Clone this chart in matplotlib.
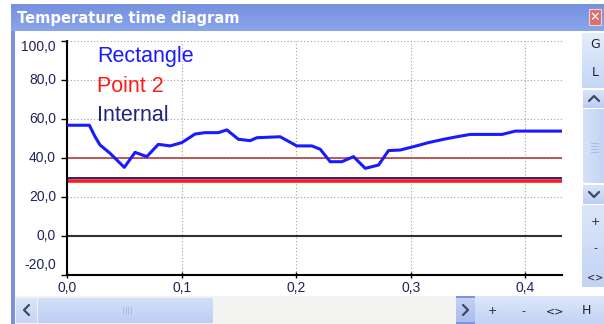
import numpy as np
import matplotlib.pyplot as plt
from matplotlib.patches import Rectangle

# Temperature curve of the "Rectangle" sensor (time, temperature)
time_s = [0.0, 0.0195, 0.0245, 0.0288, 0.0376, 0.05, 0.0594, 0.0696, 0.0797, 0.09,
          0.1002, 0.1118, 0.1205, 0.1321, 0.1395, 0.1496, 0.1598, 0.1657, 0.186,
          0.2006, 0.2137, 0.221, 0.2297, 0.2399, 0.25, 0.2603, 0.2719, 0.2806,
          0.2908, 0.3024, 0.3155, 0.3287, 0.3403, 0.352, 0.3797, 0.3913, 0.432]
temp_rect = [56.8, 56.8, 50.9, 46.7, 42.4, 35.2, 42.9, 40.7, 47.0, 46.2,
             47.9, 52.3, 53.0, 53.0, 54.4, 49.6, 48.9, 50.4, 50.9,
             46.2, 46.2, 44.5, 38.1, 38.1, 40.7, 34.7, 36.4, 43.8,
             44.1, 45.8, 47.9, 49.6, 50.9, 52.1, 52.1, 53.8, 53.8]

# Constant traces
temp_point2 = 28.0
temp_internal = 30.0
temp_limit = 40.0

series_names = ["Rectangle", "Point 2", "Internal"]
series_colors = ["#1a1aff", "#ff1a1a", "#22237f"]

x_ticks = [0.0, 0.1, 0.2, 0.3, 0.4]
x_labels = ["0,0", "0,1", "0,2", "0,3", "0,4"]
y_ticks = [-20, 0, 20, 40, 60, 80, 100]
y_labels = ["-20,0", "0,0", "20,0", "40,0", "60,0", "80,0", "100,0"]

W, H = 604, 324
fig = plt.figure(figsize=(W / 100, H / 100), dpi=100)
fig.patch.set_facecolor("white")

# window chrome drawn in pixel coordinates
bg = fig.add_axes([0, 0, 1, 1], zorder=0)
bg.axis("off")

layer = [1]


def box(x, y, w, h, color, ec="none", lw=0):
    layer[0] += 1
    bg.add_patch(Rectangle((x, y), w, h, facecolor=color, edgecolor=ec, lw=lw,
                           zorder=layer[0]))


def grad(x, y, w, h, c1, c2, vertical=True):
    layer[0] += 1
    a = np.linspace(0, 1, 64)
    c1 = np.array(plt.matplotlib.colors.to_rgb(c1))
    c2 = np.array(plt.matplotlib.colors.to_rgb(c2))
    img = c1[None, :] * (1 - a[:, None]) + c2[None, :] * a[:, None]
    img = img[:, None, :] if vertical else img[None, :, :]
    bg.imshow(img, extent=(x, x + w, y + h, y), aspect="auto",
              interpolation="bilinear", zorder=layer[0])


def label(x, y, s, size=9, **kw):
    bg.text(x, y, s, fontsize=size, ha="center", va="center", zorder=100,
            color=kw.pop("color", "#202030"), **kw)


def chevron(xs, ys):
    bg.plot(xs, ys, color="#404868", lw=1.6, zorder=100, solid_capstyle="round")


# frame and title bar
box(11, 4, W - 11, H - 4, "#7d91dc")
grad(11, 4, W - 11, 27, "#7790de", "#8aa6ec")
bg.text(17, 18, "Temperature time diagram", color="white", fontsize=10.6,
        fontweight="bold", va="center", ha="left", family="DejaVu Sans", zorder=100)
box(589, 9, 12, 16, "#d9706e", ec="#f0d0d0", lw=0.8)
label(595, 17, "✕", size=9, color="white", fontweight="bold")
box(15, 31, W - 15, 265, "white")

# right button column
grad(582, 33, 22, 55, "#e3edfb", "#c5d7f5")
label(595, 45, "G")
label(595, 73, "L")
grad(583, 90, 21, 18, "#d8e4f8", "#bccff2")
chevron([589, 594, 599], [101, 96, 101])
grad(583, 109, 21, 74, "#d5e2f8", "#c3d4f4", vertical=False)
for yy in (143, 146, 149, 152):
    bg.plot([591, 598], [yy, yy], color="#a8b8e0", lw=0.6, zorder=100)
grad(583, 185, 21, 19, "#d8e4f8", "#bccff2")
chevron([589, 594, 599], [192, 197, 192])
grad(582, 205, 22, 82, "#dbe6f9", "#c3d4f4")
label(595, 222, "+", size=8)
label(595, 248, "-", size=8)
label(595, 277, "<>", size=7)

# bottom scroll bar and toolbar
box(15, 296, 441, 28, "#f3f3f1")
grad(16, 298, 21, 25, "#dbe5f8", "#c5d5f3")
chevron([29, 24, 29], [305, 310, 315])
grad(38, 298, 175, 25, "#d2dff8", "#bccff3")
for xx in (123, 125.5, 128, 130.5):
    bg.plot([xx, xx], [307, 314], color="#a8b8e0", lw=0.6, zorder=100)
grad(456, 298, 19, 24, "#c2d1f4", "#a9bdee")
chevron([463, 468, 463], [305, 310, 315])
grad(475, 296, W - 475, 28, "#dce7fa", "#c2d3f3")
for xx, s in zip((492, 523, 555, 586), ("+", "-", "<>", "H")):
    label(xx, 311, s, size=9 if s == "H" else 8)

bg.set_xlim(0, W)
bg.set_ylim(H, 0)

# plot area
ax = fig.add_axes([67 / W, 1 - 275 / H, (562 - 67) / W, (275 - 41) / H], zorder=1)
ax.set_facecolor("white")
ax.set_xlim(0, 0.432)
ax.set_ylim(-20, 100)

ax.grid(True, color="#a0a0a0", lw=0.8, linestyle=(0, (1, 2)))
ax.set_axisbelow(True)
ax.axhline(0, color="#303030", lw=1.5, zorder=2)
ax.axhline(temp_limit, color="#b03030", lw=1.1, zorder=2)
ax.axhline(temp_internal, color=series_colors[2], lw=1.4, zorder=2)
ax.axhline(temp_point2, color=series_colors[1], lw=2.6, zorder=2)
ax.plot(time_s, temp_rect, color=series_colors[0], lw=2.2, zorder=3,
        solid_joinstyle="round")

for s in ("top", "right"):
    ax.spines[s].set_visible(False)
for s in ("left", "bottom"):
    ax.spines[s].set_color("black")
    ax.spines[s].set_linewidth(1.5)

tick_color = "#1e2555"
ax.set_xticks(x_ticks)
ax.set_xticklabels(x_labels, fontsize=10, color=tick_color, family="Liberation Sans")
ax.tick_params(axis="x", direction="inout", length=4, width=1, pad=2)
ax.set_yticks(y_ticks)
ax.set_yticklabels([])
ax.tick_params(axis="y", direction="out", length=4, width=1)

# y labels, the outer ones kept inside the panel
y_shift = {100: -4, -20: 7}
for v, lbl in zip(y_ticks, y_labels):
    ax.annotate(lbl, xy=(0, v), xycoords=("axes fraction", "data"),
                xytext=(-8, y_shift.get(v, 0)), textcoords="offset points",
                ha="right", va="center", fontsize=10, color=tick_color,
                family="Liberation Sans", annotation_clip=False)

# series legend in the top left of the plot
for i, (name, col) in enumerate(zip(series_names, series_colors)):
    ax.text(97, 62 + 29.5 * i, name, transform=bg.transData, color=col,
            fontsize=15.5, family="Liberation Sans", ha="left", va="baseline",
            zorder=4)

fig.savefig("out.png", dpi=100)
